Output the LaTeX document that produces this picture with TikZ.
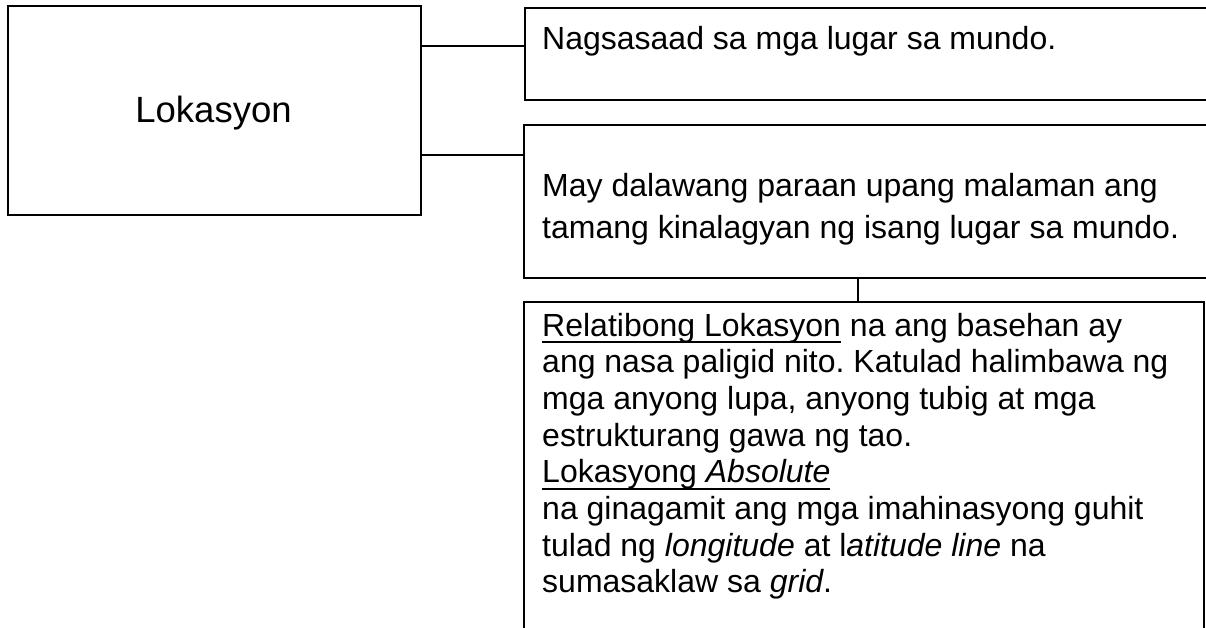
\documentclass[tikz,border=0pt]{standalone}
\usepackage{fontspec}
\setmainfont{Liberation Sans}
\frenchspacing
\newsavebox\myulbox
\newcommand{\myul}[1]{\sbox\myulbox{#1}\rlap{\rule[-6.8pt]{\wd\myulbox}{2pt}}\usebox\myulbox}
\newcommand{\lines}[1]{\vtop{#1}}
\tikzset{
  boxshape/.style={draw=black, line width=2pt, rectangle, inner sep=0pt, anchor=north west},
  txt/.style={inner sep=0pt, anchor=base west, font=\fontsize{32}{36.7}\selectfont\frenchspacing},
  conn/.style={draw=black, line width=2pt}
}
\begin{document}
\begin{tikzpicture}[x=1pt, y=-1pt]
\useasboundingbox (0,0) rectangle (1206,628);
\clip (0,0) rectangle (1206,628);
\fill[white] (0,0) rectangle (1206,628);
% boxes
\node[boxshape, minimum width=413pt, minimum height=209pt] (lok) at (7,5) {};
\node[boxshape, minimum width=691pt, minimum height=92pt] (a) at (524,7) {};
\node[boxshape, minimum width=692pt, minimum height=153pt] (b) at (523,124) {};
\node[boxshape, minimum width=680pt, minimum height=340pt] (c) at (523,301) {};
% texts
\node[inner sep=0pt, anchor=base, font=\fontsize{36.5}{40}\selectfont] (lokt) at (213.5,123) {Lokasyon};
\node[txt] (at) at (542,50) {Nagsasaad sa mga lugar sa mundo.};
\node[txt, font=\fontsize{32}{41}\selectfont] (bt) at (542,197) {\lines{\hbox{May dalawang paraan upang malaman ang}\hbox{tamang kinalagyan ng isang lugar sa mundo.}}};
\node[txt] (ct) at (542,336) {\lines{%
\hbox{\myul{Relatibong Lokasyon} na ang basehan ay}%
\hbox{ang nasa paligid nito. Katulad halimbawa ng}%
\hbox{mga anyong lupa, anyong tubig at mga}%
\hbox{estrukturang gawa ng tao.}%
\hbox{\myul{Lokasyong \textit{Absolute}}}%
\hbox{na ginagamit ang mga imahinasyong guhit}%
\hbox{tulad ng \textit{longitude} at l\textit{atitude line} na}%
\hbox{sumasaklaw sa \textit{grid}.}}};
% connectors
\coordinate (y1) at (0,46);
\coordinate (y2) at (0,155);
\coordinate (x3) at (858,0);
\draw[conn] (lok.east |- y1) -- (a.west |- y1);
\draw[conn] (lok.east |- y2) -- (b.west |- y2);
\draw[conn] (b.south -| x3) -- (c.north -| x3);
\end{tikzpicture}
\end{document}
